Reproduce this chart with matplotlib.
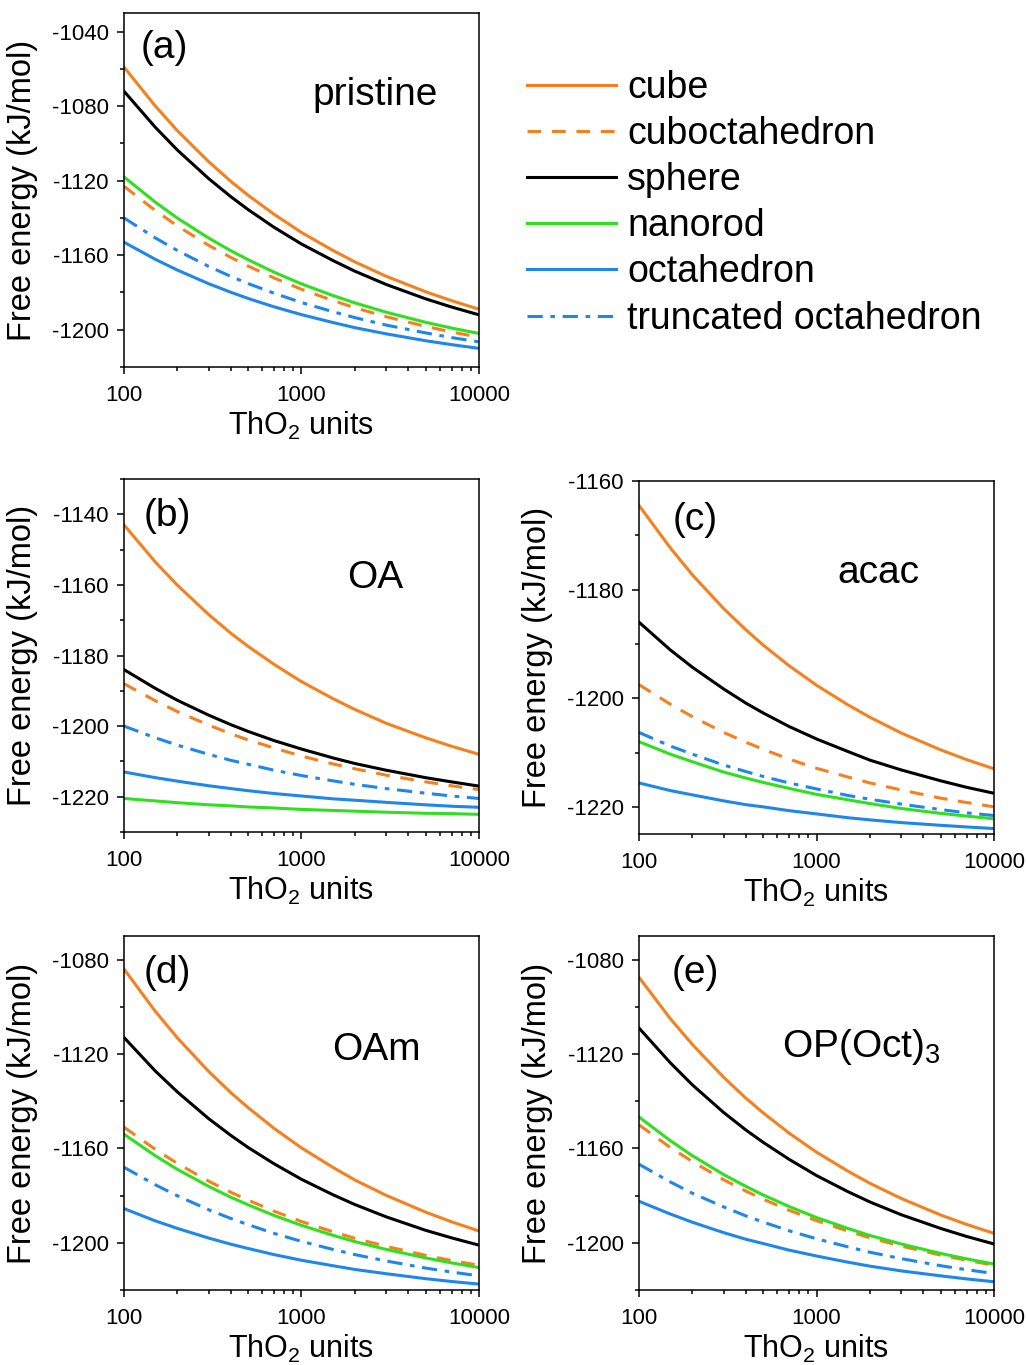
import matplotlib
matplotlib.use('Agg')
import matplotlib.pyplot as plt
from matplotlib.ticker import MultipleLocator, LogLocator, FixedLocator, FixedFormatter, NullFormatter
import numpy as np

plt.rcParams['font.family'] = ['Liberation Sans', 'DejaVu Sans']
plt.rcParams['mathtext.fontset'] = 'custom'
plt.rcParams['mathtext.rm'] = 'Liberation Sans'
plt.rcParams['mathtext.it'] = 'Liberation Sans:italic'
plt.rcParams['axes.unicode_minus'] = False
plt.rcParams['axes.linewidth'] = 1.1

# === data: ThO2 units and free energies (kJ/mol) ===
n_units = [100, 150, 200, 300, 400, 500, 700, 1000, 1500, 2000, 3000, 5000, 7000, 10000]

shapes = ['cube', 'cuboctahedron', 'sphere', 'nanorod', 'octahedron', 'truncated octahedron']

pristine = {
    'cube':                 [-1059, -1079.9, -1093.2, -1109.8, -1120.4, -1127.8, -1138.0, -1147.8, -1157.4, -1163.6, -1171.3, -1179.6, -1184.4, -1189],
    'sphere':               [-1072, -1091.3, -1103.6, -1118.9, -1128.6, -1135.5, -1145.0, -1154.0, -1162.8, -1168.6, -1175.7, -1183.4, -1187.8, -1192],
    'nanorod':              [-1118, -1131.5, -1140.1, -1150.8, -1157.6, -1162.4, -1169.1, -1175.4, -1181.6, -1185.6, -1190.6, -1196.0, -1199.1, -1202],
    'cuboctahedron':        [-1123, -1136.0, -1144.3, -1154.7, -1161.2, -1165.8, -1172.2, -1178.3, -1184.3, -1188.2, -1193.0, -1198.2, -1201.2, -1204],
    'truncated octahedron': [-1140, -1150.7, -1157.5, -1166.0, -1171.4, -1175.2, -1180.4, -1185.4, -1190.3, -1193.5, -1197.5, -1201.7, -1204.2, -1206.5],
    'octahedron':           [-1153, -1162.2, -1168.0, -1175.3, -1179.9, -1183.2, -1187.7, -1191.9, -1196.1, -1198.9, -1202.2, -1205.9, -1208.0, -1210],
}
oa = {
    'cube':                 [-1143, -1153.5, -1160.1, -1168.4, -1173.7, -1177.4, -1182.5, -1187.4, -1192.2, -1195.3, -1199.2, -1203.3, -1205.7, -1208],
    'sphere':               [-1184, -1189.3, -1192.7, -1196.9, -1199.6, -1201.5, -1204.1, -1206.5, -1209.0, -1210.6, -1212.5, -1214.6, -1215.8, -1217],
    'cuboctahedron':        [-1188, -1192.8, -1195.9, -1199.7, -1202.2, -1203.9, -1206.2, -1208.5, -1210.7, -1212.1, -1213.9, -1215.8, -1216.9, -1218],
    'truncated octahedron': [-1200, -1203.3, -1205.4, -1208.0, -1209.7, -1210.8, -1212.5, -1214.0, -1215.5, -1216.5, -1217.7, -1219.0, -1219.8, -1220.5],
    'octahedron':           [-1213, -1214.6, -1215.6, -1216.9, -1217.7, -1218.3, -1219.1, -1219.8, -1220.6, -1221.0, -1221.6, -1222.3, -1222.7, -1223],
    'nanorod':              [-1220.5, -1221.2, -1221.7, -1222.3, -1222.6, -1222.9, -1223.2, -1223.6, -1223.9, -1224.1, -1224.4, -1224.7, -1224.8, -1225],
}
acac = {
    'cube':                 [-1164.5, -1172.3, -1177.3, -1183.5, -1187.4, -1190.2, -1194.0, -1197.6, -1201.2, -1203.5, -1206.4, -1209.5, -1211.3, -1213],
    'sphere':               [-1186, -1191.1, -1194.3, -1198.3, -1200.9, -1202.7, -1205.2, -1207.5, -1209.8, -1211.4, -1213.2, -1215.2, -1216.4, -1217.5],
    'cuboctahedron':        [-1197.5, -1201.1, -1203.4, -1206.3, -1208.1, -1209.4, -1211.2, -1212.9, -1214.5, -1215.6, -1216.9, -1218.4, -1219.2, -1220],
    'truncated octahedron': [-1206.3, -1208.8, -1210.3, -1212.3, -1213.5, -1214.4, -1215.6, -1216.7, -1217.9, -1218.6, -1219.5, -1220.5, -1221.1, -1221.6],
    'nanorod':              [-1208, -1210.3, -1211.7, -1213.6, -1214.7, -1215.5, -1216.6, -1217.7, -1218.7, -1219.4, -1220.3, -1221.2, -1221.7, -1222.2],
    'octahedron':           [-1215.6, -1217.0, -1217.8, -1218.9, -1219.6, -1220.0, -1220.7, -1221.3, -1222.0, -1222.4, -1222.9, -1223.4, -1223.7, -1224],
}
oam = {
    'cube':                 [-1084, -1101.9, -1113.2, -1127.4, -1136.4, -1142.7, -1151.5, -1159.8, -1168.0, -1173.4, -1179.9, -1187.0, -1191.1, -1195],
    'sphere':               [-1113, -1127.2, -1136.1, -1147.4, -1154.5, -1159.6, -1166.5, -1173.1, -1179.6, -1183.8, -1189.0, -1194.7, -1197.9, -1201],
    'cuboctahedron':        [-1151, -1160.4, -1166.4, -1173.9, -1178.6, -1181.9, -1186.6, -1191.0, -1195.3, -1198.1, -1201.5, -1205.3, -1207.5, -1209.5],
    'nanorod':              [-1154, -1163.1, -1168.9, -1176.1, -1180.7, -1183.9, -1188.4, -1192.6, -1196.8, -1199.5, -1202.8, -1206.4, -1208.5, -1210.5],
    'truncated octahedron': [-1168, -1175.4, -1180.1, -1186.0, -1189.7, -1192.3, -1196.0, -1199.4, -1202.8, -1205.0, -1207.7, -1210.7, -1212.4, -1214],
    'octahedron':           [-1185.5, -1190.7, -1193.9, -1198.0, -1200.6, -1202.4, -1205.0, -1207.4, -1209.7, -1211.3, -1213.1, -1215.2, -1216.4, -1217.5],
}
opoct = {
    'cube':                 [-1087.5, -1105.0, -1116.0, -1129.9, -1138.7, -1144.9, -1153.5, -1161.6, -1169.6, -1174.8, -1181.2, -1188.2, -1192.2, -1196],
    'sphere':               [-1109, -1123.7, -1133.1, -1144.8, -1152.2, -1157.4, -1164.6, -1171.5, -1178.3, -1182.7, -1188.1, -1193.9, -1197.3, -1200.5],
    'nanorod':              [-1146.7, -1156.7, -1163.1, -1171.1, -1176.1, -1179.7, -1184.6, -1189.3, -1193.9, -1196.9, -1200.5, -1204.5, -1206.8, -1209],
    'cuboctahedron':        [-1150, -1159.6, -1165.6, -1173.3, -1178.1, -1181.5, -1186.2, -1190.6, -1195.0, -1197.9, -1201.4, -1205.2, -1207.4, -1209.5],
    'truncated octahedron': [-1166.7, -1174.2, -1179.0, -1184.8, -1188.6, -1191.2, -1194.9, -1198.3, -1201.7, -1204.0, -1206.7, -1209.7, -1211.4, -1213],
    'octahedron':           [-1182.4, -1187.8, -1191.3, -1195.7, -1198.5, -1200.3, -1203.1, -1205.6, -1208.2, -1209.9, -1211.9, -1214.0, -1215.3, -1216.5],
}

# === styles ===
orange = '#f7801e'
green = '#2ee01e'
blue = '#1f86ec'
styles = {
    'cube':                 dict(color=orange, ls='-'),
    'cuboctahedron':        dict(color=orange, ls=(0, (4.5, 3.5))),
    'sphere':               dict(color='black', ls='-'),
    'nanorod':              dict(color=green, ls='-'),
    'octahedron':           dict(color=blue, ls='-'),
    'truncated octahedron': dict(color=blue, ls=(0, (5, 2.5, 1.5, 2.5))),
}

fig = plt.figure(figsize=(10.27, 13.65), dpi=100)

W, H = 1027, 1365
def add_axes(l, t, r, b):
    return fig.add_axes([l / W, 1 - b / H, (r - l) / W, (b - t) / H])

panels = [
    # data, box (l, t, r, b) px, ylim, major, label, label pos, name, name pos
    (pristine, (124, 13, 479, 367), (-1220, -1030), 40, '(a)', (0.048, 0.90), 'pristine', (0.53, 0.768)),
    (oa, (124, 479, 479, 832), (-1230, -1130), 20, '(b)', (0.055, 0.895), 'OA', (0.628, 0.72)),
    (acac, (639, 481, 994, 834), (-1225, -1160), 20, '(c)', (0.096, 0.89), 'acac', (0.558, 0.74)),
    (oam, (124, 936, 479, 1290), (-1220, -1070), 40, '(d)', (0.055, 0.895), 'OAm', (0.586, 0.678)),
    (opoct, (639, 936, 994, 1290), (-1220, -1070), 40, '(e)', (0.093, 0.895), r'OP(Oct)$_\mathregular{3}$', (0.403, 0.686)),
]

for data, box, ylim, major, lab, labpos, name, namepos in panels:
    ax = add_axes(*box)
    for s in shapes:
        ax.plot(n_units, data[s], lw=2.2, label=s, **styles[s])
    ax.set_xscale('log')
    ax.set_xlim(100, 10000)
    ax.set_ylim(*ylim)
    ax.xaxis.set_major_locator(FixedLocator([100, 1000, 10000]))
    ax.xaxis.set_major_formatter(FixedFormatter(['100', '1000', '10000']))
    ax.xaxis.set_minor_locator(LogLocator(base=10, subs=np.arange(2, 10), numticks=20))
    ax.xaxis.set_minor_formatter(NullFormatter())
    ax.yaxis.set_major_locator(MultipleLocator(major))
    ax.yaxis.set_minor_locator(MultipleLocator(major / 2))
    ax.tick_params(which='both', direction='out', top=False, right=False, width=1.1)
    ax.tick_params(which='major', length=5, labelsize=16, pad=6)
    ax.tick_params(axis='x', which='major', pad=8)
    ax.tick_params(which='minor', length=3)
    ax.set_xlabel(r'ThO$_\mathregular{2}$ units', fontsize=22, labelpad=3)
    ax.set_ylabel('Free energy (kJ/mol)', fontsize=23.5, labelpad=10)
    ax.text(labpos[0], labpos[1], lab, transform=ax.transAxes, fontsize=28, ha='left', va='center')
    ax.text(namepos[0], namepos[1], name, transform=ax.transAxes, fontsize=28, ha='left', va='center')
    if lab == '(a)':
        handles, labels = ax.get_legend_handles_labels()

fig.legend(handles, labels, loc='upper left', bbox_to_anchor=(527 / W, 1 - 70 / H),
           frameon=False, fontsize=27, handlelength=2.37, handletextpad=0.3,
           labelspacing=0.27, borderpad=0, borderaxespad=0)

plt.savefig('out.png', dpi=100)
